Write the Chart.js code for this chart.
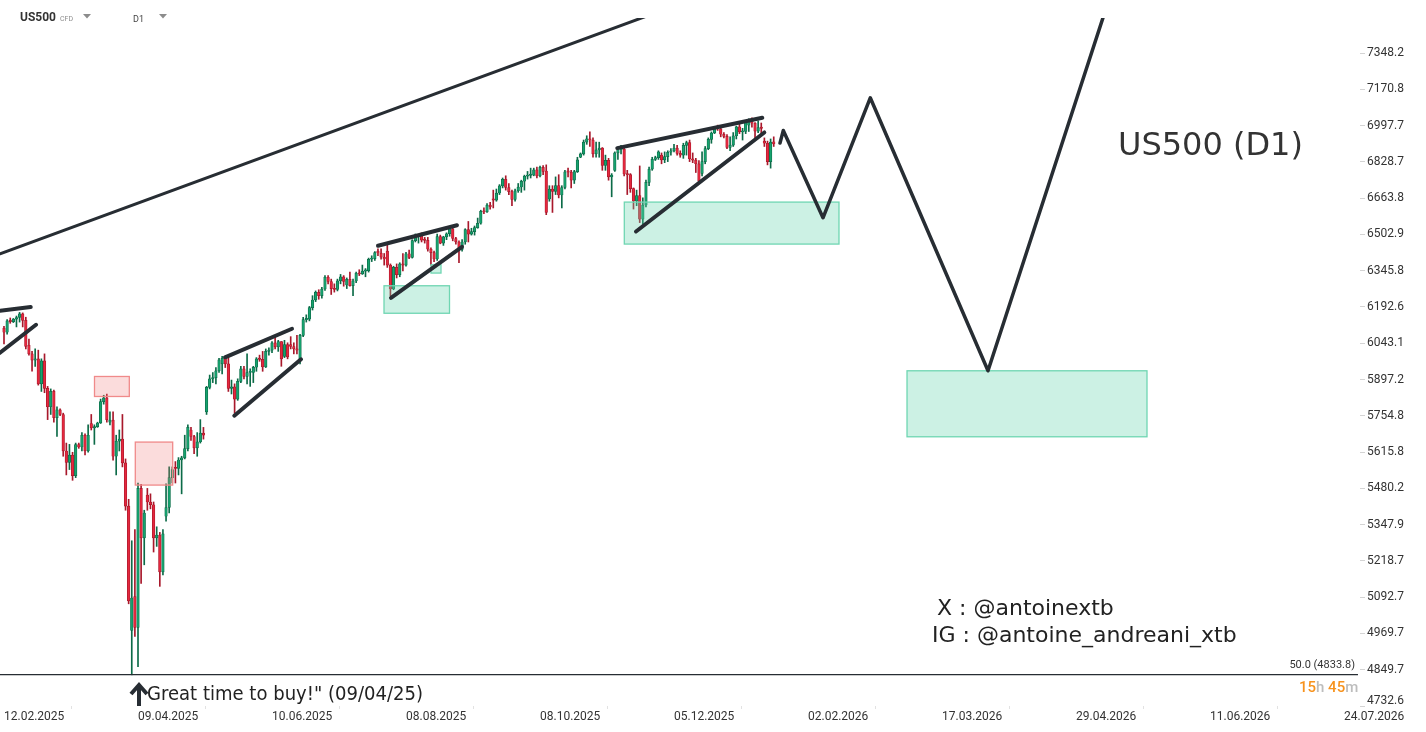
<!DOCTYPE html>
<html><head><meta charset="utf-8">
<script src="https://cdn.jsdelivr.net/npm/chart.js@4.4.1/dist/chart.umd.min.js"></script>
<style>html,body{margin:0;padding:0;background:#fff;overflow:hidden}canvas{display:block}</style>
</head><body>
<canvas id="c" width="1426" height="732"></canvas>
<script>
// ---- Daily candles, US500 CFD (bar 0 = 12.02.2025 ... bar 247 = 22.01.2026) ----
const opens = [
6105,6088,6135,6132,6142,6149,6164,6137,6035,6000,
5975,5980,5880,5972,5862,5790,5850,5748,5778,5760,
5620,5577,5604,5527,5644,5635,5680,5620,5725,5708,
5713,5727,5810,5825,5730,5738,5600,5657,5665,5575,
5415,4980,5095,4990,5480,5300,5455,5430,5420,5300,
5310,5180,5378,5410,5520,5555,5554,5586,5594,5629,
5700,5675,5632,5655,5688,5770,5866,5900,5905,5932,
5960,5982,5960,5862,5868,5820,5890,5940,5910,5925,
5925,5946,5980,5978,5948,6010,6015,6045,6028,6050,
5990,6038,6038,6030,6020,5980,6075,6140,6142,6190,
6222,6254,6240,6268,6318,6300,6270,6266,6303,6320,
6285,6309,6282,6302,6335,6332,6344,6346,6395,6398,
6430,6422,6404,6430,6370,6268,6360,6329,6375,6370,
6419,6403,6476,6495,6497,6478,6477,6439,6424,6396,
6493,6465,6492,6506,6527,6485,6470,6438,6470,6524,
6504,6515,6533,6552,6605,6602,6633,6660,6655,6687,
6719,6749,6712,6693,6658,6697,6714,6740,6763,6767,
6768,6792,6765,6804,6787,6660,6705,6694,6720,6678,
6712,6783,6782,6745,6784,6850,6866,6920,6936,6930,
6866,6884,6892,6812,6836,6760,6790,6870,6885,6888,
6773,6770,6707,6651,6675,6570,6633,6735,6795,6840,
6848,6860,6838,6853,6873,6880,6892,6868,6860,6905,
6918,6843,6837,6820,6776,6830,6890,6933,6963,6984,
6982,6957,6947,6896,6906,6950,6992,6968,6970,7000,
7023,7009,6972,6989,6925,6915,6830,6922];
const highs = [
6112,6140,6147,6145,6155,6170,6168,6150,6060,6010,
6020,6015,5980,6000,5870,5860,5855,5790,5782,5765,
5650,5645,5615,5650,5650,5690,5685,5720,5760,5720,
5730,5820,5835,5840,5770,5770,5680,5700,5760,5590,
5440,5290,5330,5500,5495,5400,5480,5460,5430,5340,
5320,5330,5497,5560,5560,5580,5595,5600,5680,5720,
5710,5680,5690,5740,5710,5870,5915,5925,5945,5982,
5990,5990,5985,5895,5880,5900,5950,5950,6000,5940,
5950,5985,5995,6010,6020,6025,6050,6070,6055,6050,
6055,6045,6070,6045,6075,6080,6150,6160,6195,6240,
6260,6265,6275,6325,6325,6310,6290,6310,6330,6325,
6315,6340,6310,6340,6350,6370,6355,6400,6410,6428,
6440,6440,6420,6460,6375,6365,6375,6380,6420,6425,
6435,6480,6505,6500,6510,6490,6490,6445,6430,6505,
6500,6495,6510,6535,6530,6490,6475,6480,6528,6560,
6530,6540,6575,6610,6620,6640,6645,6700,6705,6725,
6755,6765,6730,6700,6705,6730,6745,6768,6785,6800,
6800,6805,6810,6812,6815,6720,6720,6760,6770,6720,
6790,6800,6790,6790,6850,6870,6930,6950,6968,6940,
6920,6920,6895,6860,6845,6775,6875,6890,6905,6895,
6790,6775,6710,6700,6810,6665,6745,6805,6850,6855,
6880,6870,6875,6880,6890,6910,6905,6880,6915,6925,
6930,6870,6845,6835,6875,6900,6940,6968,6990,7000,
6985,6965,6955,6945,6965,6995,7010,6985,7020,7030,
7035,7012,7020,7010,6940,6925,6935,6945];
const lows = [
6040,6080,6125,6128,6110,6130,6110,6020,5995,5930,
5950,5875,5850,5845,5740,5760,5730,5675,5755,5600,
5530,5550,5510,5520,5630,5620,5605,5615,5700,5645,
5710,5725,5800,5730,5720,5585,5530,5620,5560,5400,
5070,4833,4960,4860,5140,5205,5400,5405,5250,5270,
5130,5170,5360,5390,5500,5500,5530,5460,5590,5620,
5660,5610,5600,5650,5665,5760,5860,5885,5880,5925,
5920,5945,5850,5840,5765,5815,5885,5900,5880,5870,
5885,5930,5970,5930,5945,5995,6005,6020,6010,5950,
5985,5980,6020,6000,6000,5960,6070,6130,6135,6180,
6215,6225,6230,6262,6290,6245,6255,6260,6290,6280,
6270,6280,6240,6295,6325,6330,6320,6340,6385,6390,
6410,6395,6370,6360,6240,6265,6315,6320,6345,6365,
6398,6400,6470,6465,6470,6465,6430,6370,6385,6390,
6462,6455,6480,6495,6475,6460,6380,6430,6460,6470,
6500,6500,6530,6548,6595,6600,6615,6620,6650,6680,
6710,6700,6680,6630,6650,6690,6690,6700,6750,6755,
6765,6755,6760,6770,6590,6650,6600,6680,6665,6620,
6705,6760,6710,6730,6780,6848,6860,6910,6900,6850,
6850,6850,6790,6790,6745,6670,6785,6840,6865,6765,
6680,6690,6615,6630,6555,6548,6625,6720,6790,6835,
6840,6820,6825,6830,6860,6875,6860,6850,6845,6860,
6830,6825,6780,6735,6765,6820,6885,6915,6960,6975,
6945,6940,6890,6880,6900,6935,6960,6930,6960,6970,
6990,6940,6965,6960,6900,6815,6800,6900];
const closes = [
6088,6135,6132,6142,6149,6164,6137,6030,6000,5975,
5980,5880,5972,5862,5790,5850,5748,5778,5760,5620,
5577,5604,5527,5644,5635,5680,5620,5680,5708,5713,
5727,5810,5825,5740,5738,5600,5657,5665,5575,5415,
5080,5090,4990,5480,5300,5390,5430,5420,5300,5310,
5180,5315,5410,5520,5550,5554,5586,5594,5629,5710,
5675,5632,5655,5688,5680,5866,5900,5905,5932,5976,
5982,5960,5862,5868,5820,5890,5940,5910,5925,5928,
5946,5980,5978,5948,6010,6015,6045,6028,6050,5980,
6038,5988,6030,6020,6015,6075,6140,6142,6190,6222,
6254,6240,6268,6318,6300,6270,6266,6303,6320,6300,
6309,6282,6302,6335,6332,6344,6346,6395,6398,6424,
6422,6404,6396,6370,6268,6360,6329,6375,6370,6419,
6403,6476,6495,6497,6478,6477,6439,6424,6396,6493,
6465,6492,6506,6527,6485,6470,6438,6470,6524,6504,
6515,6533,6552,6605,6602,6633,6625,6655,6687,6719,
6749,6712,6693,6658,6697,6714,6740,6763,6767,6768,
6792,6765,6804,6785,6600,6705,6694,6720,6678,6712,
6783,6782,6745,6784,6838,6866,6920,6936,6930,6866,
6884,6892,6812,6836,6760,6768,6870,6885,6888,6773,
6770,6707,6651,6675,6570,6633,6735,6795,6840,6848,
6875,6838,6853,6873,6880,6892,6868,6860,6905,6918,
6843,6837,6820,6741,6830,6890,6933,6963,6984,6982,
6957,6947,6896,6906,6950,6992,6968,6970,7012,7023,
7009,6972,6989,6985,6915,6830,6920,6912];

// ---- Axes ----
const xTickBars   = [0, 43, 86, 129, 172, 215, 258, 301, 344, 387, 430];
const xTickLabels = ['12.02.2025','09.04.2025','10.06.2025','08.08.2025','08.10.2025','05.12.2025',
                     '02.02.2026','17.03.2026','29.04.2026','11.06.2026','24.07.2026'];
const yTicks = [7348.2,7170.8,6997.7,6828.7,6663.8,6502.9,6345.8,6192.6,6043.1,5897.2,
                5754.8,5615.8,5480.2,5347.9,5218.7,5092.7,4969.7,4849.7,4732.6];
const yMin = 4732.6, yMax = 7524.0, xMin = -1.284, xMax = 435.13;

// ---- Drawings (bar index, price) ----
const longTrend   = [[-1.284, 6418.7], [223.34, 7633.9]];
const leftTop     = [[-1.284, 6176.8], [8.57, 6192.2]];
const leftBottom  = [[-1.284, 6004.4], [10.27, 6118.8]];
const wedgeAUp    = [[70.92, 5986.2], [92.42, 6102.4]];
const wedgeALow   = [[73.90, 5755.0], [95.31, 5978.2]];
const wedgeBUp    = [[120.01, 6453.4], [145.36, 6543.1]];
const wedgeBLow   = [[124.18, 6231.2], [146.97, 6449.0]];
const wedgeCUp    = [[196.80, 6892.5], [243.33, 7034.7]];
const wedgeCLow   = [[202.80, 6515.9], [243.98, 6965.4]];
const projection  = [[249.01, 6915.8], [250.07, 6974.8], [262.81, 6576.3], [277.98, 7130.2],
                     [315.76, 5932.0], [355.58, 7668.4]];
const fibLevel = 4833.8;
const fibLine  = [[-1.284, fibLevel], [434.48, fibLevel]];
// boxes: [bar1, priceTop, bar2, priceBottom]
const pinkBoxes  = [[29.04, 5909.3, 40.21, 5830.2], [42.13, 5653.8, 54.13, 5492.3]];
const greenBoxes = [[121.94, 6281.8, 142.96, 6166.5], [137.02, 6371.4, 140.23, 6335.8],
                    [199.05, 6646.2, 267.94, 6460.8], [289.77, 5932.0, 366.78, 5674.0]];

const UP = '#16a26e', UPB = '#0c6b48', DN = '#e5283e', DNB = '#a8182b';
const LINE = '#272d33';
const isUp = i => closes[i] >= opens[i];

const bodyData = opens.map((o, i) => ({x: i, y: [o, closes[i]]}));
const wickData = opens.map((o, i) => ({x: i, y: [lows[i], highs[i]]}));

const lineDs = (pts, w) => ({
  type: 'line', data: pts.map(p => ({x: p[0], y: p[1]})), borderColor: LINE, borderWidth: w,
  pointRadius: 0, borderCapStyle: 'round', borderJoinStyle: 'round', fill: false, tension: 0, order: 0
});

const boxPlugin = {
  id: 'boxes',
  afterDatasetDraw(chart, args) {
    if (args.index !== 0) return;
    const {ctx, chartArea: a, scales: {x, y}} = chart;
    ctx.save();
    ctx.beginPath(); ctx.rect(a.left, a.top, a.right - a.left, a.bottom - a.top); ctx.clip();
    const draw = (b, fill, stroke) => {
      const x1 = x.getPixelForValue(b[0]), y1 = y.getPixelForValue(b[1]);
      const x2 = x.getPixelForValue(b[2]), y2 = y.getPixelForValue(b[3]);
      ctx.fillStyle = fill; ctx.fillRect(x1, y1, x2 - x1, y2 - y1);
      ctx.strokeStyle = stroke; ctx.lineWidth = 1.3; ctx.strokeRect(x1, y1, x2 - x1, y2 - y1);
    };
    pinkBoxes.forEach(b => draw(b, 'rgba(240,120,120,0.26)', '#f08a8a'));
    greenBoxes.forEach(b => draw(b, 'rgba(100,212,172,0.33)', '#6fd6b2'));
    ctx.restore();
  }
};

const textPlugin = {
  id: 'texts',
  afterDraw(chart) {
    const {ctx, scales: {x, y}} = chart;
    ctx.save();
    const tri = (cx, cy) => { ctx.fillStyle = '#8c8c8c'; ctx.beginPath();
      ctx.moveTo(cx - 4, cy - 2); ctx.lineTo(cx + 4, cy - 2); ctx.lineTo(cx, cy + 2.5); ctx.closePath(); ctx.fill(); };
    ctx.textBaseline = 'middle'; ctx.textAlign = 'left';
    ctx.fillStyle = '#333'; ctx.font = 'bold 12px Roboto'; ctx.fillText('US500', 20, 18);
    ctx.fillStyle = '#8c8c8c'; ctx.font = '7px Roboto'; ctx.fillText('CFD', 60, 19);
    tri(87, 16);
    ctx.fillStyle = '#444'; ctx.font = '9px Roboto'; ctx.fillText('D1', 133, 20);
    tri(163, 16);

    ctx.textBaseline = 'alphabetic';
    ctx.fillStyle = '#333'; ctx.font = '32px "DejaVu Sans"';
    ctx.fillText('US500 (D1)', 1118, 155);
    ctx.fillStyle = '#222'; ctx.font = '22px "DejaVu Sans"';
    ctx.fillText('X : @antoinextb', 937, 615);
    ctx.fillText('IG : @antoine_andreani_xtb', 932, 642);

    ctx.font = '20px "DejaVu Sans"'; ctx.fillStyle = '#222';
    ctx.fillText('Great time to buy!" (09/04/25)', 147, 700, 276);
    const ax = x.getPixelForValue(43) + 1;
    ctx.strokeStyle = LINE; ctx.lineWidth = 4; ctx.lineCap = 'butt'; ctx.lineJoin = 'miter';
    ctx.beginPath(); ctx.moveTo(ax, 686); ctx.lineTo(ax, 706); ctx.stroke();
    ctx.beginPath(); ctx.moveTo(ax - 8, 694); ctx.lineTo(ax, 685); ctx.lineTo(ax + 8, 694); ctx.stroke();

    const fy = y.getPixelForValue(fibLevel);
    ctx.textAlign = 'right'; ctx.textBaseline = 'middle';
    ctx.fillStyle = '#333'; ctx.font = '11px Roboto';
    ctx.fillText('50.0 (' + fibLevel.toFixed(1) + ')', 1355, fy - 9);

    ctx.textAlign = 'left'; ctx.font = '500 15px Roboto';
    let cx = 1299;
    [['15', '#f7931e'], ['h ', '#bdbdbd'], ['45', '#f7931e'], ['m', '#bdbdbd']].forEach(([t, c]) => {
      ctx.fillStyle = c; ctx.fillText(t, cx, 688); cx += ctx.measureText(t).width; });

    ctx.fillStyle = '#333'; ctx.font = '12px Roboto';
    ctx.fillText(yTicks[yTicks.length - 1].toFixed(1), 1367, y.getPixelForValue(yMin) - 5);
    ctx.restore();
  }
};

new Chart(document.getElementById('c'), {
  type: 'bar',
  data: {
    datasets: [
      { type: 'bar', data: bodyData, order: 1, grouped: false, barThickness: 2.6, minBarLength: 1.2,
        backgroundColor: opens.map((o, i) => isUp(i) ? UP : DN),
        borderColor: opens.map((o, i) => isUp(i) ? UPB : DNB),
        borderWidth: 0.7, borderSkipped: false },
      { type: 'bar', data: wickData, order: 2, grouped: false, barThickness: 1,
        backgroundColor: opens.map((o, i) => isUp(i) ? UPB : DNB) },
      lineDs(longTrend, 3), lineDs(leftTop, 4), lineDs(leftBottom, 4),
      lineDs(wedgeAUp, 4), lineDs(wedgeALow, 4), lineDs(wedgeBUp, 4), lineDs(wedgeBLow, 4),
      lineDs(wedgeCUp, 4), lineDs(wedgeCLow, 4), lineDs(projection, 3.5),
      Object.assign(lineDs(fibLine, 1.3), {borderCapStyle: 'butt'})
    ]
  },
  options: {
    responsive: false, animation: false, events: [],
    layout: { padding: { top: 18, left: 0, right: 0, bottom: 0 } },
    plugins: { legend: { display: false }, tooltip: { enabled: false } },
    scales: {
      x: {
        type: 'linear', min: xMin, max: xMax, offset: false,
        afterFit: s => { s.height = 26; },
        afterBuildTicks: s => { s.ticks = xTickBars.map(v => ({value: v})); },
        grid: { drawOnChartArea: false, drawTicks: true, tickLength: 3, color: '#e2e2e2' },
        border: { display: false },
        ticks: { align: 'start', autoSkip: false, maxRotation: 0, padding: 1, color: '#333',
                 font: { family: 'Roboto', size: 12 },
                 callback: v => { const k = xTickBars.indexOf(v); return k >= 0 ? xTickLabels[k] : ''; } }
      },
      y: {
        type: 'logarithmic', position: 'right', min: yMin, max: yMax,
        afterFit: s => { s.width = 66; },
        afterBuildTicks: s => { s.ticks = yTicks.map(v => ({value: v})); },
        grid: { drawOnChartArea: false, drawTicks: true, tickLength: 5, color: '#d4d4d4' },
        border: { display: false },
        ticks: { padding: 2, color: '#333', font: { family: 'Roboto', size: 12 },
                 callback: v => v === yMin ? '' : Number(v).toFixed(1) }
      }
    }
  },
  plugins: [boxPlugin, textPlugin]
});
</script>
</body></html>
